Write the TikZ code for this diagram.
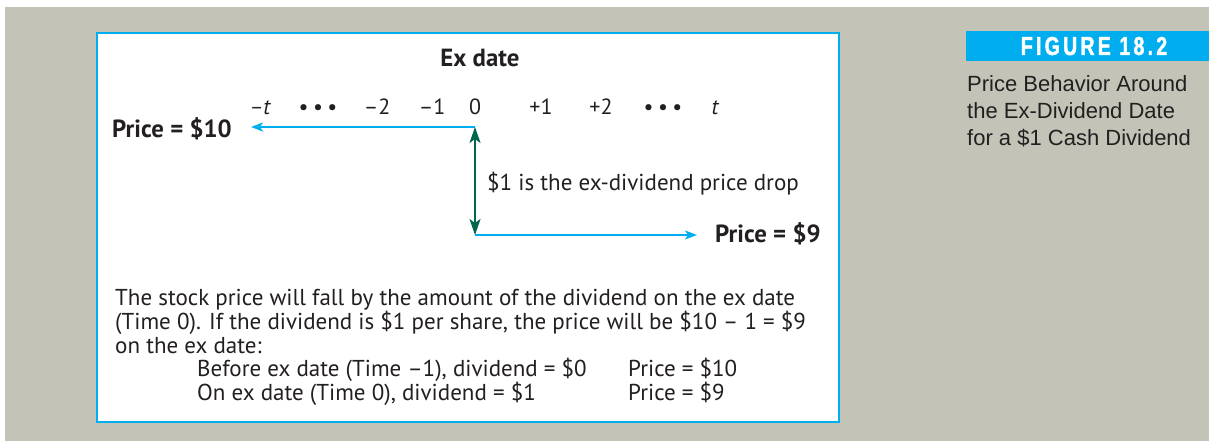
\documentclass[tikz,border=0pt]{standalone}
\usepackage{fontspec}
\usetikzlibrary{arrows.meta}
\setmainfont{PT Sans}
\newfontfamily\bodyfont{PT Sans}
\newfontfamily\capfont{Liberation Sans}
\newfontfamily\figfont{Liberation Sans}[FakeStretch=0.75, LetterSpace=12.5, FakeBold=1.6]
\definecolor{bgray}{HTML}{C3C4B7}
\definecolor{cblue}{HTML}{00AEEF}
\definecolor{dgreen}{HTML}{00664F}
\definecolor{ink}{HTML}{231F20}
\tikzset{
  body/.style={font=\bodyfont\fontsize{23}{25}\selectfont, text=ink, inner sep=0pt},
  bodybold/.style={font=\bodyfont\bfseries\fontsize{24.8}{26}\selectfont, text=ink, inner sep=0pt},
  ticklab/.style={font=\bodyfont\fontsize{22}{24}\selectfont, text=ink, inner sep=0pt, anchor=base},
  captxt/.style={font=\capfont\fontsize{22}{24}\selectfont, text=ink, inner sep=0pt, anchor=base west},
  bluearrow/.style={draw=cblue, line width=2pt, -{Stealth[length=12pt,width=9pt,inset=3pt]}},
  greenarrow/.style={draw=dgreen, line width=2pt, {Stealth[length=16pt,width=11pt,inset=4pt]}-{Stealth[length=16pt,width=11pt,inset=4pt]}},
}
\begin{document}
\begin{tikzpicture}[x=1pt,y=-1pt]
\useasboundingbox (0,0) rectangle (1209,441);
\fill[white] (0,0) rectangle (1209,441);
\fill[bgray] (5,7) rectangle (1209,441);
\draw[cblue, line width=2.5pt, fill=white] (97,33) rectangle (839,422);
% title
\node[bodybold, anchor=base] (exdate) at (480,67) {Ex date};
% timeline
\node[ticklab] (tmt) at (260,114) {\itshape –t};
\node[ticklab] (dl) at (318,114) {•\hspace{4.5pt}•\hspace{4.5pt}•};
\node[ticklab] (tm2) at (377,114) {–2};
\node[ticklab] (tm1) at (432,114) {–1};
\node[ticklab] (t0l) at (475,114) {0};
\node[ticklab] (tp1) at (541,114) {+1};
\node[ticklab] (tp2) at (601,114) {+2};
\node[ticklab] (dr) at (663,114) {•\hspace{4.5pt}•\hspace{4.5pt}•};
\node[ticklab] (tt) at (715,114) {\itshape t};
% prices
\node[bodybold, anchor=base east] (p10) at (232,137) {Price = \$10};
\node[bodybold, anchor=base west] (p9) at (715,242) {Price = \$9};
\coordinate (top0) at (475,127);
\coordinate (bot0) at (475,235);
\draw[bluearrow] (top0) -- ([xshift=19pt]p10.east |- top0);
\draw[greenarrow] (top0) -- (bot0);
\draw[bluearrow] (bot0) -- ([xshift=-18pt]p9.west |- bot0);
\node[body, anchor=base west] (drop) at (487,190) {\$1 is the ex-dividend price drop};
% paragraph
\node[body, anchor=base west] (l1) at (115,305.7) {The stock price will fall by the amount of the dividend on the ex date};
\node[body, anchor=base west] (l2) at (115,329.4) {(Time 0). If the dividend is \$1 per share, the price will be \$10 – 1 = \$9};
\node[body, anchor=base west] (l3) at (115,353) {on the ex date:};
\node[body, anchor=base west] (l4) at (197,376.7) {Before ex date (Time –1), dividend = \$0};
\node[body, anchor=base west] (l4b) at (628,376.7) {Price = \$10};
\node[body, anchor=base west] (l5) at (197,400.4) {On ex date (Time 0), dividend = \$1};
\node[body, anchor=base west] (l5b) at (628,400.4) {Price = \$9};
% figure label
\fill[cblue] (966,31) rectangle (1209,61);
\node[font=\figfont\bfseries\fontsize{26}{28}\selectfont, text=white, inner sep=0pt, anchor=base] (fig) at (1094,55) {FIGURE 18.2};
\node[captxt] (c1) at (967,91.7) {Price Behavior Around};
\node[captxt] (c2) at (967,118.3) {the Ex-Dividend Date};
\node[captxt] (c3) at (967,145) {for a \$1 Cash Dividend};
\end{tikzpicture}
\end{document}
